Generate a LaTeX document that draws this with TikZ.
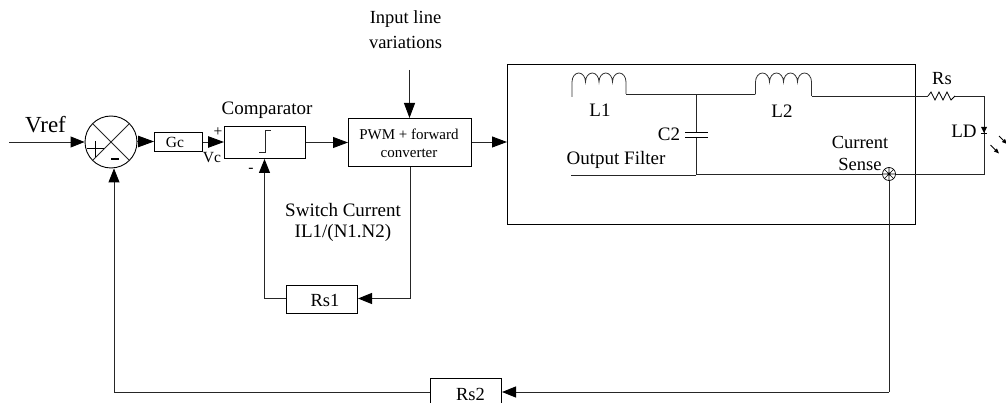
\documentclass[tikz,border=0pt]{standalone}
\usepackage{fontspec}
\setmainfont{Liberation Serif}
\usetikzlibrary{arrows.meta}
\tikzset{
  wire/.style={draw=black!85,line width=0.9pt},
  arr/.style={wire,-{Triangle[length=14pt,width=11pt,color=black]}},
  arrb/.style={wire,-{Triangle[length=16pt,width=11.5pt,color=black]}},
  arrs/.style={wire,-{Triangle[length=15pt,width=11pt,color=black]}},
  blockbox/.style={draw=black,line width=1pt,inner sep=0pt,anchor=north west,fill=white},
  lab/.style={inner sep=0pt,align=center,font=\fontsize{18.5}{22}\selectfont},
  smalllab/.style={inner sep=0pt,align=center,font=\fontsize{15.5}{18}\selectfont},
  coilline/.style={draw=black!80,line width=0.8pt}
}
\begin{document}
\begin{tikzpicture}[x=1pt,y=-1pt]
\useasboundingbox (0,0) rectangle (1006,403);
\clip (0,0) rectangle (1006,403);
% blocks
\node[blockbox,minimum width=408pt,minimum height=160.5pt] (filter) at (507,64) {};
\node[blockbox,minimum width=48pt,minimum height=19pt] (gc) at (154,132) {};
\node[blockbox,minimum width=81pt,minimum height=32pt] (comp) at (224,126) {};
\node[blockbox,minimum width=123pt,minimum height=48.5pt] (pwm) at (348,118) {};
\node[blockbox,minimum width=71pt,minimum height=28pt] (rsone) at (286,285) {};
\node[blockbox,minimum width=71pt,minimum height=40pt] (rstwo) at (430,378) {};
\node[circle,draw=black,line width=0.9pt,minimum size=52pt,inner sep=0pt] (sum) at (111,142) {};
\node[circle,draw=black,line width=0.7pt,minimum size=13pt,inner sep=0pt] (sense) at (889,174) {};
% sum interior
\draw[wire] (sum.45) -- (sum.225) (sum.135) -- (sum.315);
\draw[line width=1pt] (87,149) -- (104,149) (95.5,141) -- (95.5,157);
\draw[line width=1.4pt] (111,159) -- (119,159);
% sense interior
\draw[line width=0.6pt] (sense.45) -- (sense.225) (sense.135) -- (sense.315) (sense.north) -- (sense.south) (sense.west) -- (sense.east);
\fill (sense.center) circle (1.5pt);
% comparator step
\draw[line width=0.8pt,draw=black!85] (259,152) -- (265,152) -- (265,130) -- (271,130);
% coordinates
\coordinate (vstart) at (9,142);
\coordinate (inputtop) at (409.5,70);
\coordinate (fbcomp) at (264.5,298.5);
\coordinate (pwmdrop) at (410,298.5);
\coordinate (sumfb) at (114,392);
\coordinate (sensedrop) at (889,392);
% connectors
\draw[arr] (vstart) -- (sum.west |- vstart);
\draw[arrb] (sum.east |- 0,141.5) -- (gc.west |- 0,141.5);
\draw[arrb] (gc.east) -- (comp.west |- gc.east);
\draw[arrs] (comp.east) -- (pwm.west |- comp.east);
\draw[arrs] (inputtop) -- (inputtop |- pwm.north);
\draw[arrs] (pwm.east |- 0,142) -- (filter.west |- 0,142);
\draw[wire] (pwm.south -| pwmdrop) -- (pwmdrop);
\draw[arr] (pwmdrop) -- (rsone.east |- pwmdrop);
\draw[wire] (rsone.west |- fbcomp) -- (fbcomp);
\draw[arr] (fbcomp) -- (fbcomp |- comp.south);
\draw[wire] (sense.south) -- (sensedrop);
\draw[arr] (sensedrop) -- (rstwo.east |- sensedrop);
\draw[wire] (rstwo.west |- sumfb) -- (sumfb);
\draw[arr] (sumfb) -- (sumfb |- sum.south);
% L1
\draw[coilline] (572,97) -- (572,82) arc (180:360:6.75 and 9) arc (180:360:6.75 and 9) arc (180:360:6.75 and 9) arc (180:360:6.75 and 9) -- (626,94);
% L1 to L2
\draw[wire] (626,94.3) -- (755,94.3);
% L2
\draw[coilline] (755.5,94.3) -- (755.5,82) arc (180:360:7 and 9) arc (180:360:7 and 9) arc (180:360:7 and 9) arc (180:360:7 and 9) -- (811.5,96);
% L2 to Rs
\draw[wire] (811.5,96) -- (928,96);
\draw[line width=0.8pt] (928,96) -- (931,92) -- (935,100) -- (939,92) -- (943,100) -- (947,92) -- (951,100) -- (955,96);
\draw[wire] (955,96) -- (984,96) -- (984,174) -- (sense.east);
% bottom rail
\draw[wire] (571,175) -- (696,175);
\draw[wire] (696,174) -- (sense.west);
% C2
\draw[wire] (696,94.3) -- (696,132) (696,137) -- (696,175);
\draw[line width=0.9pt] (685,132) -- (708,132) (685,137) -- (708,137);
% LD
\fill (981,127) -- (987,127) -- (984,133) -- cycle;
\draw[line width=0.9pt] (981,133.3) -- (987,133.3);
% light arrows
\draw[line width=0.8pt,-{Triangle[length=5pt,width=4pt]}] (990.5,145) -- (999,153.5);
\draw[line width=0.8pt,-{Triangle[length=5pt,width=4pt]}] (999,136) -- (1007,144);
% labels
\node[lab] (tinput) at (405.5,19) {Input line};
\node[lab] (tvar) at (405.5,42) {variations};
\node[lab,font=\fontsize{19}{22}\selectfont] (tcomp) at (267,110) {Comparator};
\node[inner sep=0pt,font=\fontsize{23}{26}\selectfont] (tvref) at (45.5,125) {Vref};
\node[smalllab] (tgc) at (175,142) {Gc};
\node[smalllab] (tplus) at (218,132) {+};
\node[smalllab] (tvc) at (212,158) {Vc};
\node[smalllab] (tminus) at (251,170) {-};
\node[inner sep=0pt,align=center,font=\fontsize{15}{18}\selectfont] (tpwm) at (409,143.5) {PWM + forward\\converter};
\node[lab,font=\fontsize{19}{22}\selectfont] (tsw) at (343,210) {Switch Current};
\node[lab,font=\fontsize{19}{22}\selectfont] (til) at (343,233) {IL1/(N1.N2)};
\node[lab] (trsone) at (325,300) {Rs1};
\node[lab] (trstwo) at (470.5,394.5) {Rs2};
\node[lab,font=\fontsize{19}{22}\selectfont] (tlone) at (600,110) {L1};
\node[lab,font=\fontsize{19}{22}\selectfont] (tltwo) at (782,111) {L2};
\node[lab,font=\fontsize{19}{22}\selectfont] (tctwo) at (669,134) {C2};
\node[lab,font=\fontsize{19}{22}\selectfont] (tof) at (616,160) {Output Filter};
\node[lab] (trs) at (942,79) {Rs};
\node[lab,font=\fontsize{19}{22}\selectfont] (tld) at (964,131) {LD};
\node[lab] (tcur) at (860,142) {Current};
\node[lab] (tsense) at (860,164) {Sense};
\end{tikzpicture}
\end{document}
